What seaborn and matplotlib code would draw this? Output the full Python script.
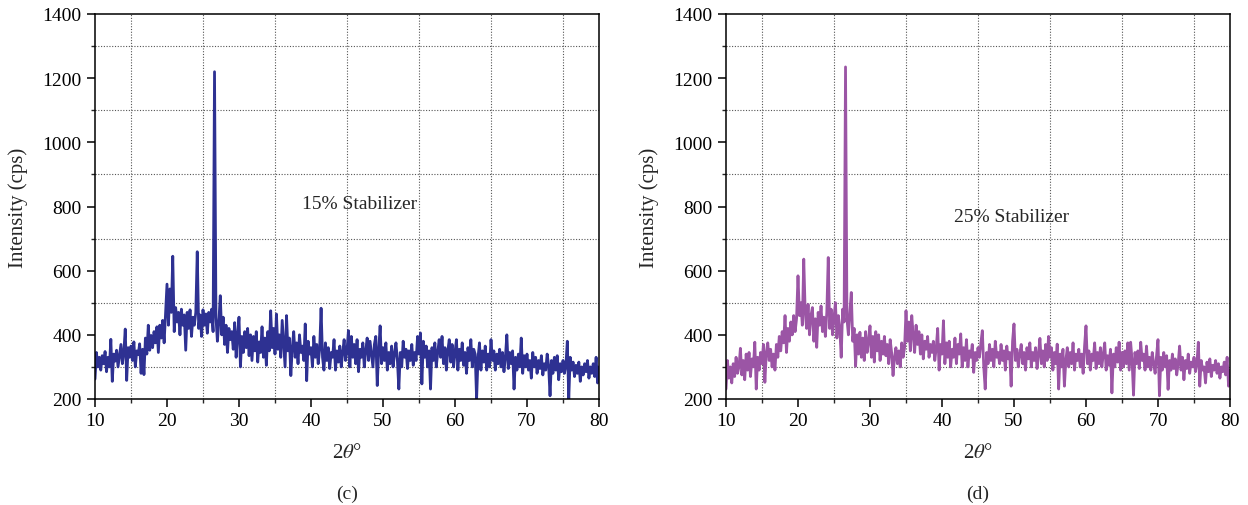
import numpy as np
import pandas as pd
import matplotlib
matplotlib.use("Agg")
import matplotlib.pyplot as plt
from matplotlib.ticker import MultipleLocator
import seaborn as sns

two_theta = np.round(np.arange(10.0, 80.01, 0.2), 1)

intensity_15 = [
    262, 345, 300, 330, 290,
    335, 310, 348, 285, 330,
    300, 386, 255, 340, 318,
    352, 300, 335, 370, 310,
    345, 418, 258, 360, 330,
    365, 320, 378, 300, 350,
    338, 372, 280, 355, 276,
    390, 340, 430, 352, 398,
    360, 410, 375, 425, 345,
    430, 390, 445, 375, 470,
    558, 430, 543, 470, 645,
    410, 485, 440, 470, 400,
    480, 430, 462, 352, 470,
    420, 478, 395, 455, 430,
    470, 659, 420, 462, 395,
    478, 430, 465, 405, 470,
    440, 480, 410, 1220, 455,
    380, 440, 522, 400, 455,
    370, 430, 345, 420, 385,
    410, 355, 438, 330, 400,
    455, 300, 395, 345, 410,
    360, 420, 335, 400, 320,
    395, 350, 410, 315, 378,
    345, 425, 330, 390, 305,
    410, 350, 475, 360, 420,
    340, 465, 355, 400, 330,
    445, 370, 300, 460, 350,
    390, 273, 360, 410, 330,
    375, 310, 400, 345, 365,
    320, 434, 257, 380, 340,
    360, 300, 395, 330, 370,
    310, 355, 483, 330, 290,
    375, 320, 360, 295, 345,
    330, 385, 290, 350, 315,
    365, 300, 345, 385, 320,
    350, 413, 300, 395, 330,
    370, 310, 385, 285, 355,
    330, 375, 300, 350, 390,
    320, 380, 340, 300, 370,
    395, 242, 350, 428, 310,
    360, 320, 375, 290, 345,
    310, 365, 300, 340, 375,
    320, 231, 345, 300, 380,
    330, 355, 295, 350, 320,
    370, 305, 345, 320, 395,
    340, 406, 247, 380, 330,
    365, 300, 350, 231, 360,
    320, 375, 300, 345, 385,
    330, 395, 310, 360, 290,
    350, 385, 315, 370, 300,
    345, 385, 290, 355, 320,
    375, 305, 345, 280, 360,
    320, 385, 300, 355, 340,
    200, 330, 375, 290, 350,
    315, 365, 290, 340, 300,
    385, 320, 350, 290, 340,
    310, 355, 300, 345, 285,
    330, 400, 295, 345, 310,
    350, 231, 330, 290, 340,
    300, 390, 280, 335, 300,
    340, 290, 320, 265, 345,
    300, 330, 280, 320, 295,
    335, 275, 310, 290, 340,
    305, 210, 320, 280, 330,
    290, 335, 260, 310, 285,
    320, 280, 305, 380, 200,
    330, 290, 315, 270, 305,
    280, 315, 255, 300, 275,
    310, 285, 320, 265, 300,
    280, 310, 270, 330, 250,
    300,
]

intensity_25 = [
    231, 320, 265, 300, 250,
    310, 270, 330, 280, 300,
    358, 275, 320, 260, 340,
    290, 345, 270, 325, 300,
    377, 231, 330, 290, 345,
    310, 370, 252, 345, 375,
    320, 355, 300, 340, 290,
    370, 330, 395, 350, 410,
    375, 460, 345, 420, 380,
    440, 400, 460, 410, 450,
    584, 460, 500, 430, 636,
    470, 420, 495, 400, 460,
    485, 380, 450, 361, 470,
    430, 490, 410, 455, 395,
    470, 641, 420, 480, 400,
    455, 500, 390, 460, 420,
    330, 480, 440, 1235, 450,
    400, 470, 532, 380, 420,
    302, 400, 340, 408, 330,
    390, 320, 410, 345, 380,
    428, 330, 395, 315, 410,
    350, 400, 320, 380, 340,
    395, 335, 370, 310, 385,
    345, 273, 330, 360, 310,
    350, 300, 375, 330, 360,
    475, 380, 440, 350, 460,
    400, 345, 430, 370, 410,
    340, 400, 325, 380, 355,
    395, 330, 370, 345, 380,
    320, 360, 420, 290, 370,
    340, 444, 310, 375, 330,
    380, 300, 355, 330, 390,
    310, 370, 340, 403, 300,
    360, 320, 385, 300, 350,
    330, 370, 283, 345, 320,
    360, 330, 375, 413, 300,
    231, 345, 310, 370, 320,
    355, 300, 380, 330, 345,
    310, 370, 320, 350, 290,
    365, 325, 345, 240, 380,
    434, 320, 355, 300, 340,
    370, 310, 345, 290, 360,
    325, 375, 300, 345, 320,
    360, 295, 340, 389, 310,
    350, 300, 370, 320, 395,
    330, 360, 290, 345, 310,
    371, 231, 340, 300, 355,
    240, 320, 360, 300, 345,
    310, 375, 290, 340, 320,
    355, 300, 340, 280, 365,
    428, 310, 350, 290, 340,
    320, 375, 295, 345, 310,
    360, 300, 340, 375, 290,
    335, 305, 355, 219, 340,
    300, 360, 315, 377, 290,
    345, 300, 350, 310, 375,
    290, 377, 320, 212, 345,
    310, 350, 295, 377, 320,
    340, 290, 365, 300, 330,
    290, 345, 310, 280, 335,
    385, 210, 330, 290, 345,
    300, 335, 230, 320, 290,
    340, 295, 325, 275, 310,
    365, 290, 330, 260, 320,
    295, 340, 280, 315, 300,
    330, 285, 310, 377, 240,
    320, 290, 300, 250, 315,
    285, 325, 270, 305, 290,
    320, 280, 310, 265, 300,
    285, 315, 275, 330, 240,
    290,
]

panels = [
    ("15% Stabilizer", "(c)", "#2E3192", (46.8, 808)),
    ("25% Stabilizer", "(d)", "#9B55A5", (49.7, 770)),
]
series = [intensity_15, intensity_25]

sns.set_style("ticks")
plt.rcParams["font.family"] = ["Liberation Serif", "DejaVu Serif"]
plt.rcParams["mathtext.fontset"] = "stix"

fig = plt.figure(figsize=(12.48, 5.06), dpi=100)
lefts = [95 / 1248, 726 / 1248]
W = 504 / 1248
B = 1 - 400 / 506
H = 385 / 506

for i, ((label, tag, color, (tx, ty)), vals) in enumerate(zip(panels, series)):
    ax = fig.add_axes([lefts[i], B, W, H])
    df = pd.DataFrame({"two_theta": two_theta, "intensity": vals})
    sns.lineplot(data=df, x="two_theta", y="intensity", ax=ax, color=color,
                 linewidth=2.0, estimator=None, sort=False)
    ax.set_xlim(10, 80)
    ax.set_ylim(200, 1400)
    ax.xaxis.set_major_locator(MultipleLocator(10))
    ax.xaxis.set_minor_locator(MultipleLocator(5))
    ax.yaxis.set_major_locator(MultipleLocator(200))
    ax.yaxis.set_minor_locator(MultipleLocator(100))
    ax.grid(False, which="major")
    ax.grid(True, which="minor", linestyle=(0, (1, 1.5)), color="#555555", linewidth=0.8)
    ax.tick_params(which="major", direction="out", length=6, width=1.1, labelsize=14, colors="black")
    ax.tick_params(which="minor", direction="out", length=3, width=1.0)
    for s in ax.spines.values():
        s.set_visible(True)
        s.set_linewidth(1.1)
        s.set_color("black")
    ax.set_xlabel(r"2$\theta$°", fontsize=15)
    ax.set_ylabel("Intensity (cps)", fontsize=15)
    ax.xaxis.set_label_coords(0.5, -0.115)
    ax.yaxis.set_label_coords(-0.133, 0.5)
    ax.text(tx, ty, label, fontsize=14, ha="center", va="center")
    fig.text(lefts[i] + W / 2, 1 - 494 / 506, tag, fontsize=14, ha="center", va="center")

fig.savefig("out.png", dpi=100)
